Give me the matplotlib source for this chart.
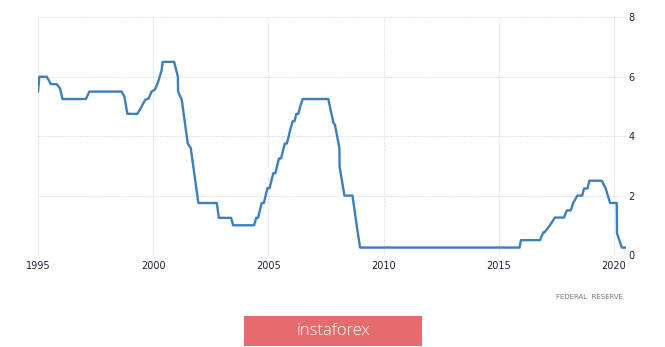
import numpy as np
import matplotlib; matplotlib.use("Agg")
import matplotlib.pyplot as plt
from matplotlib.patches import Rectangle

# Fed funds rate: vertices of the plotted line (decimal year, percent)
years = [1995.0,1995.06,1995.38,1995.56,1995.81,1995.96,1996.06,1997.08,1997.23,1998.63,1998.75,1998.88,
  1999.31,1999.43,1999.65,1999.8,1999.93,2000.08,2000.22,2000.37,2000.41,2000.91,2001.07,2001.08,
  2001.24,2001.5,2001.63,2001.96,2002.76,2002.85,2003.38,2003.47,2004.38,2004.47,2004.55,2004.63,
  2004.71,2004.8,2004.88,2004.96,2005.05,2005.13,2005.21,2005.3,2005.38,2005.46,2005.55,2005.63,
  2005.71,2005.8,2005.88,2005.96,2006.05,2006.13,2006.21,2006.3,2006.38,2006.49,2007.6,2007.82,
  2007.89,2008.08,2008.09,2008.3,2008.65,2008.84,2008.98,2015.9,2015.96,2016.79,2016.93,2016.98,
  2017.22,2017.44,2017.83,2017.95,2018.12,2018.23,2018.41,2018.62,2018.7,2018.85,2018.93,2019.47,
  2019.64,2019.83,2020.12,2020.13,2020.34,2020.48]
rates = [5.5,6.0,6.0,5.75,5.75,5.6,5.25,5.25,5.5,5.5,5.33,4.75,
  4.75,4.9,5.22,5.27,5.5,5.57,5.84,6.23,6.5,6.5,6.0,5.5,
  5.22,3.75,3.6,1.75,1.75,1.25,1.25,1.0,1.0,1.25,1.25,1.5,
  1.75,1.75,2.0,2.25,2.25,2.5,2.75,2.75,3.0,3.25,3.25,3.5,
  3.75,3.75,4.0,4.25,4.5,4.5,4.75,4.75,5.0,5.25,5.25,4.45,
  4.38,3.6,2.97,2.0,2.0,0.95,0.25,0.25,0.5,0.5,0.76,0.76,
  1.0,1.26,1.26,1.5,1.5,1.75,2.0,2.0,2.24,2.24,2.5,2.5,
  2.24,1.75,1.75,0.73,0.25,0.25]
xticks = [1995, 2000, 2005, 2010, 2015, 2020]
yticks = [0, 2, 4, 6, 8]

W, H = 665, 347
fig = plt.figure(figsize=(W/100, H/100), dpi=100)
ax = fig.add_axes([38/W, (H-255)/H, (625.5-38)/W, (255-17.3)/H])
ax.plot(years, rates, color="#3d7ebd", lw=1.7, solid_joinstyle="round", zorder=3)
ax.set_xlim(1995, 1995 + (625.5-38)/23.04)
ax.set_ylim(0, 8)
ax.set_xticks(xticks); ax.set_yticks(yticks)
ax.yaxis.tick_right()
for s in ax.spines.values(): s.set_visible(False)
ax.grid(True, color="#d2d2d2", lw=0.7, ls=(0, (1, 1.5)))
ax.tick_params(length=0, labelsize=7, colors="#1e1e3c", pad=4)
ax.tick_params(axis="y", pad=2)
fig.text(623/W, 1-297/H, "FEDERAL  RESERVE", fontsize=5.0,
         color="#7a7a7a", ha="right", va="center")

# logo
fig.patches.append(Rectangle((244/W, 1-346/H), 178/W, 30/H, transform=fig.transFigure,
                             facecolor="#e46b6e", edgecolor="none"))
fig.text(333/W, 1-331/H, "instaforex", fontsize=12, color="white", family="Open Sans",
         fontweight="light", ha="center", va="center")
fig.savefig("out.png", dpi=100)
